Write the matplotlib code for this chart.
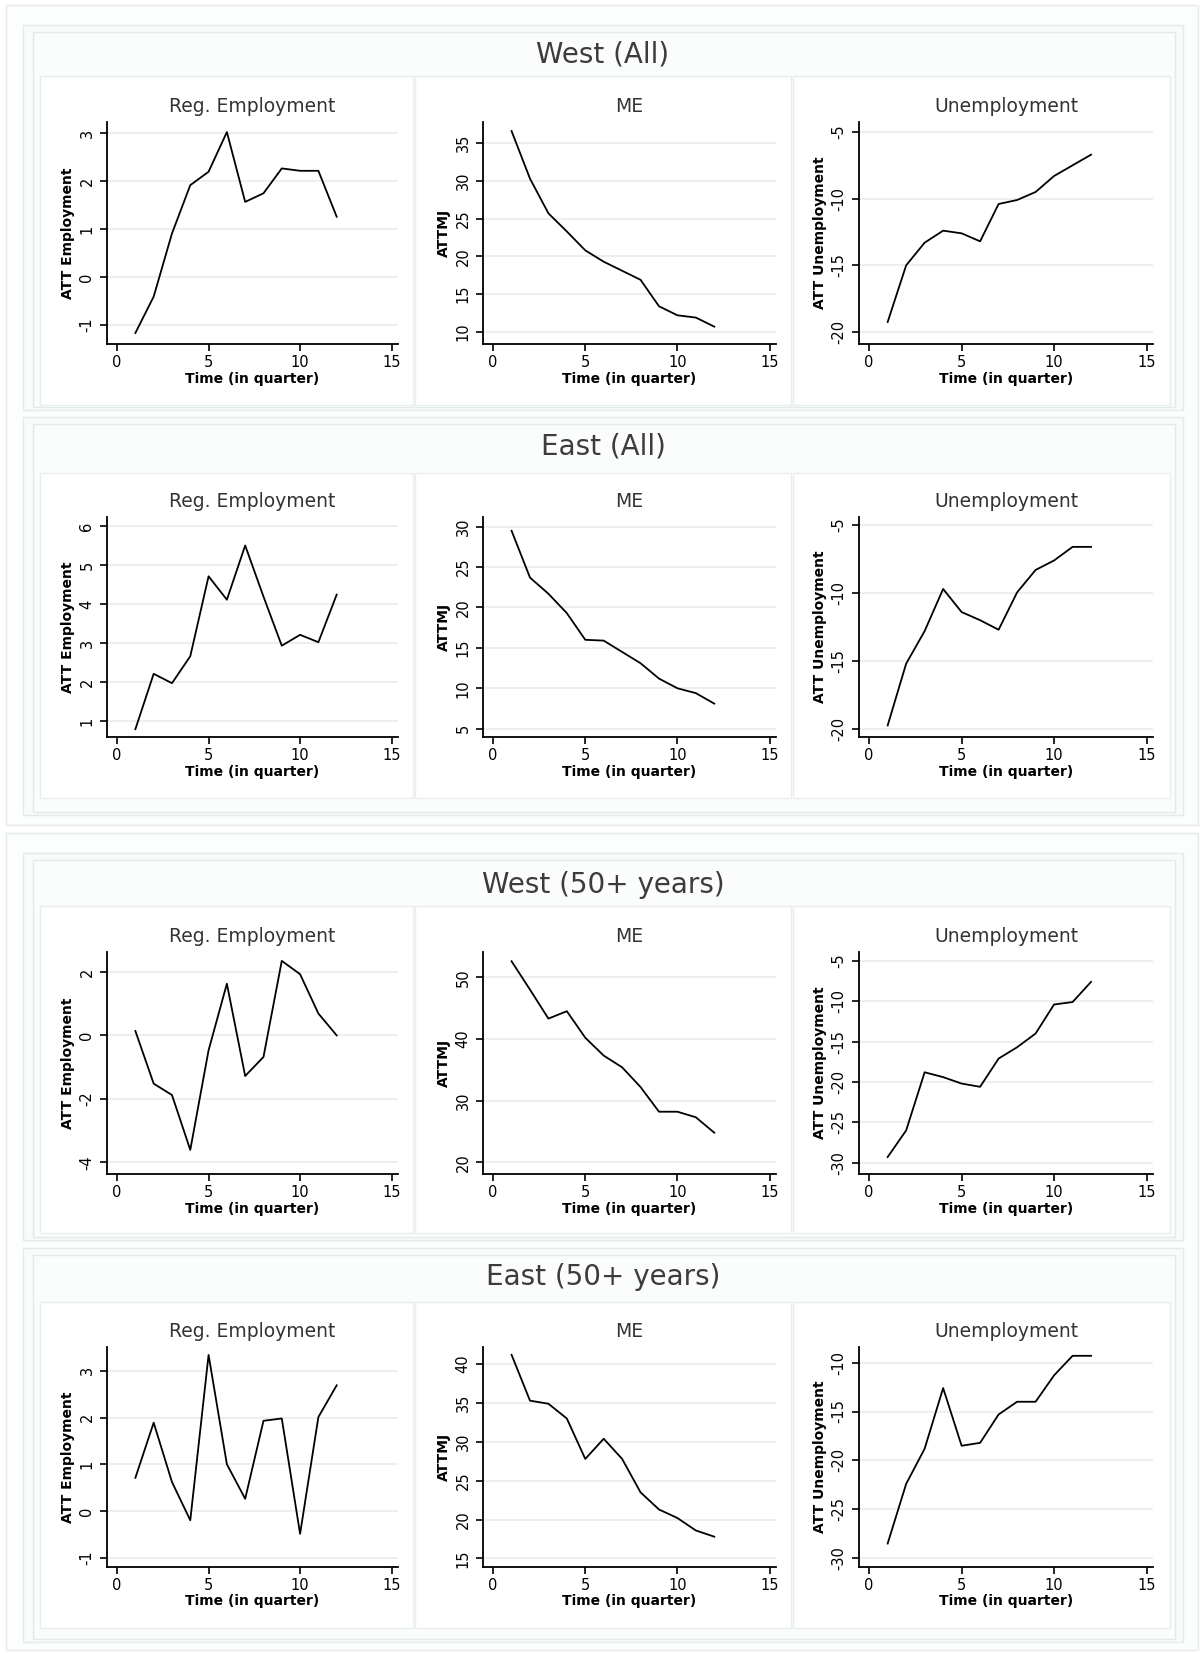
import matplotlib
matplotlib.use('Agg')
import matplotlib.pyplot as plt
from matplotlib.patches import Rectangle

plt.rcParams['axes.unicode_minus'] = False

# x axis: quarters after program start
quarters = [1, 2, 3, 4, 5, 6, 7, 8, 9, 10, 11, 12]

# West (All)
west_all_emp = [-1.17, -0.41, 0.91, 1.92, 2.2, 3.03, 1.57, 1.75, 2.27, 2.22, 2.22, 1.26]
west_all_me = [36.6, 30.3, 25.7, 23.3, 20.8, 19.3, 18.1, 16.9, 13.4, 12.2, 11.9, 10.7]
west_all_unemp = [-19.25, -15.0, -13.3, -12.4, -12.6, -13.2, -10.4, -10.1, -9.5, -8.3, -7.5, -6.7]

# East (All)
east_all_emp = [0.8, 2.22, 1.98, 2.67, 4.72, 4.12, 5.51, 4.2, 2.94, 3.22, 3.03, 4.25]
east_all_me = [29.5, 23.7, 21.7, 19.3, 16.0, 15.9, 14.5, 13.1, 11.2, 10.0, 9.4, 8.1]
east_all_unemp = [-19.75, -15.2, -12.8, -9.7, -11.4, -12.0, -12.7, -9.95, -8.3, -7.6, -6.6, -6.6]

# West (50+ years)
west_50_emp = [0.14, -1.52, -1.88, -3.61, -0.47, 1.63, -1.28, -0.68, 2.35, 1.93, 0.69, 0.0]
west_50_me = [52.6, 48.0, 43.3, 44.5, 40.2, 37.3, 35.4, 32.2, 28.2, 28.2, 27.3, 24.8]
west_50_unemp = [-29.3, -26.0, -18.8, -19.4, -20.2, -20.6, -17.1, -15.7, -14.0, -10.4, -10.1, -7.6]

# East (50+ years)
east_50_emp = [0.71, 1.89, 0.62, -0.2, 3.34, 1.0, 0.26, 1.93, 1.98, -0.49, 2.01, 2.69]
east_50_me = [41.2, 35.3, 34.9, 33.0, 27.8, 30.4, 27.8, 23.5, 21.3, 20.2, 18.6, 17.8]
east_50_unemp = [-28.5, -22.4, -18.8, -12.6, -18.5, -18.2, -15.3, -14.0, -14.0, -11.3, -9.3, -9.3]

row_titles = ['West (All)', 'East (All)', 'West (50+ years)', 'East (50+ years)']
col_titles = ['Reg. Employment', 'ME', 'Unemployment']
y_labels = ['ATT Employment', 'ATTMJ', 'ATT Unemployment']

series = [[west_all_emp, west_all_me, west_all_unemp],
          [east_all_emp, east_all_me, east_all_unemp],
          [west_50_emp, west_50_me, west_50_unemp],
          [east_50_emp, east_50_me, east_50_unemp]]

yticks = [[[-1, 0, 1, 2, 3], [10, 15, 20, 25, 30, 35], [-20, -15, -10, -5]],
          [[1, 2, 3, 4, 5, 6], [5, 10, 15, 20, 25, 30], [-20, -15, -10, -5]],
          [[-4, -2, 0, 2], [20, 30, 40, 50], [-30, -25, -20, -15, -10, -5]],
          [[-1, 0, 1, 2, 3], [15, 20, 25, 30, 35, 40], [-30, -25, -20, -15, -10]]]

ylims = [[(-1.4, 3.24), (8.4, 37.8), (-20.9, -4.25)],
         [(0.6, 6.24), (3.97, 31.2), (-20.6, -4.4)],
         [(-4.37, 2.63), (18.1, 54.1), (-31.4, -3.9)],
         [(-1.2, 3.51), (13.9, 42.2), (-30.9, -8.4)]]

W, H = 1204, 1653
fig = plt.figure(figsize=(W / 100, H / 100), dpi=100)
fig.patch.set_facecolor('white')

narrow = ['Liberation Sans Narrow', 'DejaVu Sans']
edge = '#e4eaec'


def frect(x0, y0, x1, y1, fc, ec=edge, lw=1.0):
    fig.add_artist(Rectangle((x0 / W, 1 - y1 / H), (x1 - x0) / W, (y1 - y0) / H,
                             transform=fig.transFigure, fc=fc, ec=ec, lw=lw, zorder=0))


# two outer blocks
frect(6, 5, 1198, 825, '#fcfdfd')
frect(6, 833, 1198, 1650, '#fcfdfd')

# rows: sub-block top/bottom, title y, panel top/bottom, axes top/bottom
rows = [(25, 410, 54, 76, 405, 122, 344),
        (417, 815, 447, 473, 798, 517, 737),
        (853, 1240, 885, 906, 1233, 952, 1174),
        (1248, 1642, 1277, 1302, 1628, 1347, 1567)]
panel_x = [(40, 413), (415, 791), (793, 1170)]
axes_x = [(107, 398), (483, 776), (859, 1153)]

for r, (sy0, sy1, ty, py0, py1, ay0, ay1) in enumerate(rows):
    frect(23, sy0, 1183, sy1, '#f9fbfb')
    frect(33, sy0 + 7, 1175, sy1 - 3, '#fbfcfc')
    fig.text(603 / W, 1 - ty / H, row_titles[r], ha='center', va='center',
             fontsize=20, color='#3c3c3c')
    for c in range(3):
        frect(panel_x[c][0], py0, panel_x[c][1], py1, 'white', ec='#e8eef0')
        x0, x1 = axes_x[c]
        ax = fig.add_axes([x0 / W, 1 - ay1 / H, (x1 - x0) / W, (ay1 - ay0) / H])
        ax.patch.set_alpha(0)
        ax.plot(quarters, series[r][c], color='black', lw=1.3)
        ax.set_xlim(-0.55, 15.35)
        ax.set_ylim(*ylims[r][c])
        ax.set_xticks([0, 5, 10, 15])
        ax.set_yticks(yticks[r][c])
        ax.yaxis.grid(True, color='#e9eced', lw=1.2)
        ax.set_axisbelow(True)
        ax.spines['top'].set_visible(False)
        ax.spines['right'].set_visible(False)
        ax.spines['left'].set_linewidth(1.3)
        ax.spines['bottom'].set_linewidth(1.3)
        ax.tick_params(axis='both', length=5, width=1.2, color='black')
        ax.tick_params(axis='x', pad=3)
        ax.tick_params(axis='y', pad=4, labelrotation=90)
        for lbl in ax.get_xticklabels() + ax.get_yticklabels():
            lbl.set_family(narrow)
            lbl.set_fontsize(10.5)
        for lbl in ax.get_yticklabels():
            lbl.set_va('center')
        ax.set_title(col_titles[c], fontsize=13.5, color='#333333', pad=7)
        ax.set_xlabel('Time (in quarter)', family=narrow, fontsize=10,
                      fontweight='bold', labelpad=1)
        ax.set_ylabel(y_labels[c], family=narrow, fontsize=10,
                      fontweight='bold', labelpad=3)

fig.savefig('out.png', dpi=100, facecolor='white')
